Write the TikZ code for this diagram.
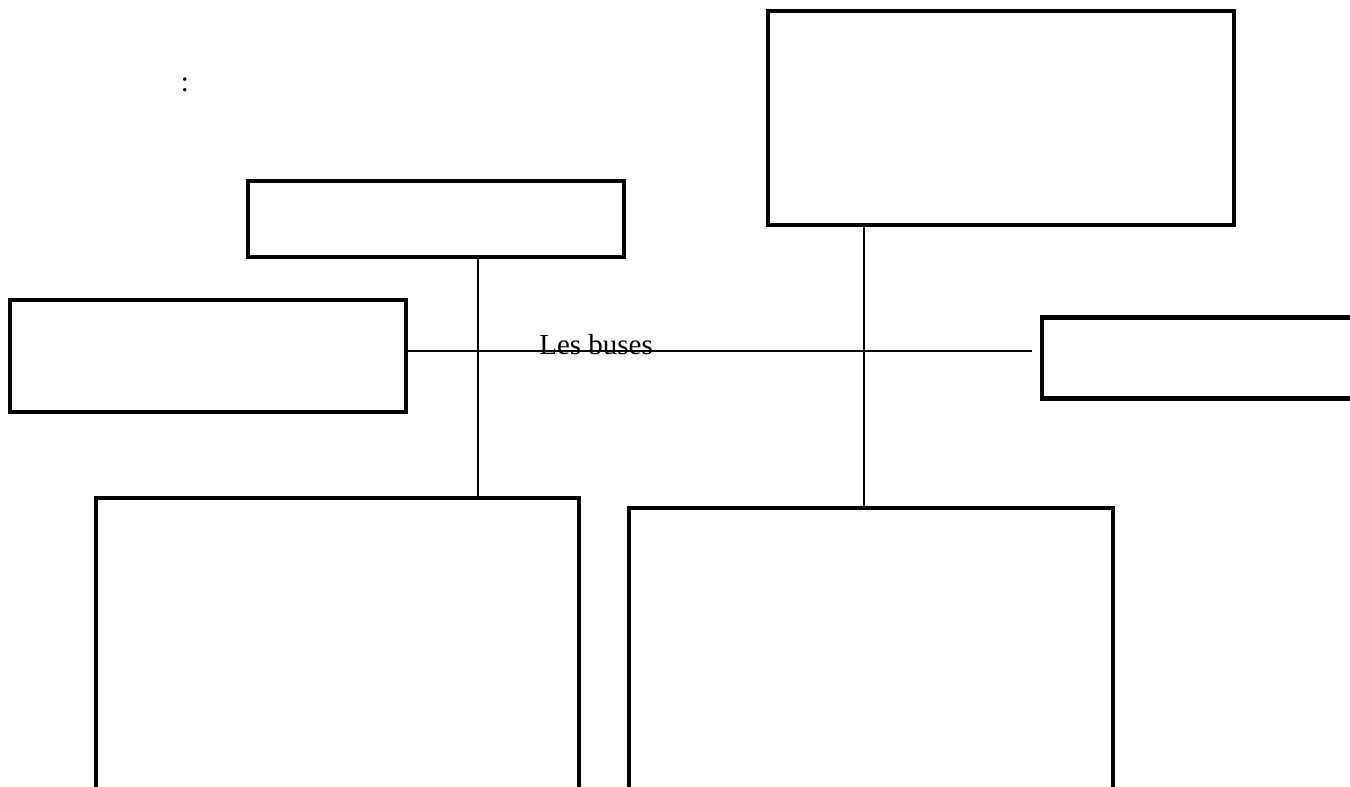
\documentclass[tikz,border=0pt]{standalone}
\usepackage{fontspec}
\setmainfont{Liberation Serif}
\begin{document}
\begin{tikzpicture}[x=0.02cm,y=-0.02cm,
  boxstyle/.style={draw=black,line width=0.09cm,inner sep=0pt,outer sep=0pt},
  link/.style={draw=black,line width=0.03cm},
  lbl/.style={inner sep=0pt,font=\fontsize{16.5}{19}\selectfont}]
\useasboundingbox (0,0) rectangle (1350,787);
\path[fill=white] (0,0) rectangle (1350,787);
% boxes
\node[boxstyle,minimum width=466*0.02cm,minimum height=214*0.02cm,anchor=north west] (tr) at (768,11) {};
\node[boxstyle,minimum width=376*0.02cm,minimum height=76*0.02cm,anchor=north west] (a) at (248,181) {};
\node[boxstyle,minimum width=396*0.02cm,minimum height=112*0.02cm,anchor=north west] (b) at (10,300) {};
\node[boxstyle,minimum width=340*0.02cm,minimum height=81*0.02cm,anchor=north west] (c) at (1042,317.5) {};
\node[boxstyle,minimum width=483*0.02cm,minimum height=291*0.02cm,anchor=north west] (d) at (96,498) {};
\node[boxstyle,minimum width=484*0.02cm,minimum height=281*0.02cm,anchor=north west] (e) at (629,508) {};
% connectors
\coordinate (hend) at (1032,351);
\draw[link] (b.east |- hend) -- (hend);
\draw[link] (a.south -| 478,0) -- (d.north -| 478,0);
\draw[link] (e.north -| 864,0) -- (tr.south -| 864,0);
% labels
\node[lbl,anchor=base west] (buses) at (539,355) {Les buses};
\node[lbl,anchor=base] (colon) at (185,92) {:};
\end{tikzpicture}
\end{document}
